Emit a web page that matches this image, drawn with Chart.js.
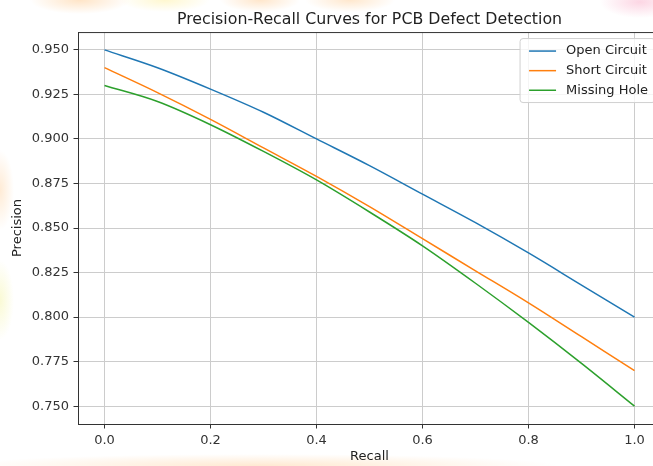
<!DOCTYPE html>
<html>
<head>
<meta charset="utf-8">
<title>Precision-Recall Curves for PCB Defect Detection</title>
<script src="https://cdn.jsdelivr.net/npm/chart.js@4/dist/chart.umd.min.js"></script>
<style>
  html, body {
    margin: 0;
    padding: 0;
    overflow: hidden;
  }
  body {
    width: 653px;
    height: 466px;
    background:
      radial-gradient(ellipse 50px 14px at 80px 0px, rgba(255, 196, 130, 0.45), transparent),
      radial-gradient(ellipse 45px 12px at 165px 0px, rgba(255, 240, 160, 0.5), transparent),
      radial-gradient(ellipse 40px 12px at 260px 0px, rgba(255, 200, 140, 0.45), transparent),
      radial-gradient(ellipse 45px 12px at 350px 0px, rgba(255, 196, 130, 0.4), transparent),
      radial-gradient(ellipse 40px 16px at 640px 2px, rgba(250, 180, 205, 0.55), transparent),
      radial-gradient(ellipse 14px 40px at 0px 190px, rgba(255, 205, 150, 0.4), transparent),
      radial-gradient(ellipse 14px 40px at 0px 300px, rgba(245, 245, 170, 0.5), transparent),
      radial-gradient(ellipse 300px 12px at 260px 466px, rgba(255, 200, 140, 0.4), transparent),
      #ffffff;
  }
  #grafico {
    display: block;
  }
</style>
</head>
<body>
<canvas id="grafico" width="661" height="466"></canvas>
<script>
const titulo = "Precision-Recall Curves for PCB Defect Detection";
const recall = [0.0, 0.1, 0.2, 0.3, 0.4, 0.5, 0.6, 0.7, 0.8, 0.9, 1.0];
const openCircuit = [0.950, 0.940, 0.928, 0.915, 0.900, 0.885, 0.869, 0.853, 0.836, 0.818, 0.800];
const shortCircuit = [0.940, 0.926, 0.911, 0.895, 0.879, 0.862, 0.844, 0.826, 0.808, 0.789, 0.770];
const missingHole = [0.930, 0.921, 0.908, 0.893, 0.877, 0.859, 0.840, 0.819, 0.797, 0.774, 0.750];
const xTicks = [0.0, 0.2, 0.4, 0.6, 0.8, 1.0];
const yTicks = [0.750, 0.775, 0.800, 0.825, 0.850, 0.875, 0.900, 0.925, 0.950];

const fuente = "DejaVu Sans";

function armarSerie(valores) {
  return recall.map((r, i) => ({ x: r, y: valores[i] }));
}

// fondo blanco solo dentro del area del grafico + marco superior
const marcoPlugin = {
  id: "marco",
  beforeDraw(chart) {
    const { ctx, chartArea } = chart;
    ctx.save();
    ctx.fillStyle = "#ffffff";
    ctx.fillRect(chartArea.left, chartArea.top, chartArea.right - chartArea.left, chartArea.bottom - chartArea.top);
    ctx.restore();
  },
  afterDraw(chart) {
    const { ctx, chartArea } = chart;
    ctx.save();
    ctx.strokeStyle = "#333333";
    ctx.lineWidth = 1;
    ctx.strokeRect(chartArea.left + 0.5, chartArea.top + 0.5, chartArea.right - chartArea.left, chartArea.bottom - chartArea.top);
    ctx.restore();
  },
};

// leyenda dentro del grafico, arriba a la derecha
const leyendaPlugin = {
  id: "leyenda",
  afterDatasetsDraw(chart) {
    const { ctx, chartArea } = chart;
    const datasets = chart.data.datasets;
    ctx.save();
    ctx.font = `13px "${fuente}"`;
    const anchoTexto = Math.max(...datasets.map((d) => ctx.measureText(d.label).width));
    const ancho = 9 + 27 + 10 + anchoTexto + 7;
    const alto = 64;
    const derecha = chartArea.right - 6;
    const izquierda = derecha - ancho;
    const arriba = chartArea.top + 6.5;

    ctx.beginPath();
    ctx.roundRect(izquierda, arriba, ancho, alto, 3);
    ctx.fillStyle = "rgba(255,255,255,0.8)";
    ctx.fill();
    ctx.strokeStyle = "#d0d0d0";
    ctx.lineWidth = 1;
    ctx.stroke();

    datasets.forEach((d, i) => {
      const y = arriba + 12.5 + i * 19.6;
      ctx.beginPath();
      ctx.moveTo(izquierda + 9, y);
      ctx.lineTo(izquierda + 36, y);
      ctx.strokeStyle = d.borderColor;
      ctx.lineWidth = 1.5;
      ctx.stroke();
      ctx.fillStyle = "#222222";
      ctx.textAlign = "left";
      ctx.textBaseline = "middle";
      ctx.fillText(d.label, izquierda + 46, y);
    });
    ctx.restore();
  },
};

const config = {
  type: "line",
  data: {
    datasets: [
      {
        label: "Open Circuit",
        data: armarSerie(openCircuit),
        borderColor: "#1f77b4",
        backgroundColor: "#1f77b4",
        borderWidth: 1.5,
        pointRadius: 0,
        cubicInterpolationMode: "monotone",
      },
      {
        label: "Short Circuit",
        data: armarSerie(shortCircuit),
        borderColor: "#ff7f0e",
        backgroundColor: "#ff7f0e",
        borderWidth: 1.5,
        pointRadius: 0,
        cubicInterpolationMode: "monotone",
      },
      {
        label: "Missing Hole",
        data: armarSerie(missingHole),
        borderColor: "#2ca02c",
        backgroundColor: "#2ca02c",
        borderWidth: 1.5,
        pointRadius: 0,
        cubicInterpolationMode: "monotone",
      },
    ],
  },
  options: {
    responsive: false,
    animation: false,
    layout: { padding: 0 },
    plugins: {
      legend: { display: false },
      tooltip: { enabled: false },
      title: {
        display: true,
        text: titulo,
        fullSize: false,
        color: "#222222",
        font: { family: fuente, size: 15.8, weight: "normal" },
        padding: { top: 10, bottom: 3.1 },
      },
    },
    scales: {
      x: {
        type: "linear",
        min: -0.05,
        max: 1.05,
        afterBuildTicks: (scale) => {
          scale.ticks = xTicks.map((v) => ({ value: v }));
        },
        afterFit: (scale) => {
          scale.height = 42;
        },
        ticks: {
          color: "#333333",
          font: { family: fuente, size: 13 },
          padding: 4,
          maxRotation: 0,
          callback: (value) => Number(value).toFixed(1),
        },
        grid: { color: "#cccccc", lineWidth: 1, tickColor: "#333333", tickLength: 4.5 },
        border: { color: "#333333", width: 1 },
        title: {
          display: true,
          text: "Recall",
          color: "#222222",
          font: { family: fuente, size: 13 },
          padding: { top: 0, bottom: 1.2 },
        },
      },
      y: {
        type: "linear",
        min: 0.74,
        max: 0.96,
        afterBuildTicks: (scale) => {
          scale.ticks = yTicks.map((v) => ({ value: v }));
        },
        afterFit: (scale) => {
          scale.width = 78;
        },
        ticks: {
          color: "#333333",
          font: { family: fuente, size: 13 },
          padding: 4.5,
          callback: (value) => Number(value).toFixed(3),
        },
        grid: { color: "#cccccc", lineWidth: 1, tickColor: "#333333", tickLength: 4.5 },
        border: { color: "#333333", width: 1 },
        title: {
          display: true,
          text: "Precision",
          color: "#222222",
          font: { family: fuente, size: 13 },
          padding: { top: 10, bottom: 0 },
        },
      },
    },
  },
  plugins: [marcoPlugin, leyendaPlugin],
};

const chartDOM = document.getElementById("grafico");
const grafico = new Chart(chartDOM, config);
</script>
</body>
</html>
